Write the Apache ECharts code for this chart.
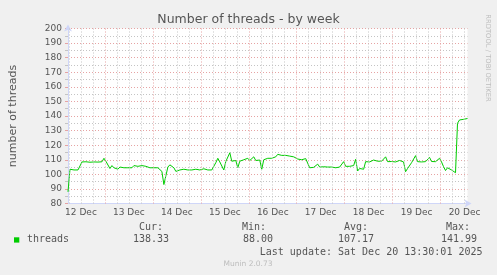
<!DOCTYPE html>
<html><head><meta charset="utf-8">
<script src="https://cdn.jsdelivr.net/npm/echarts@6/dist/echarts.min.js"></script>
<style>html,body{margin:0;padding:0;background:#F0F0F0}#c{width:497px;height:275px}</style>
</head><body><div id="c"></div>
<script>
// ---- data ----
const startTime = Date.UTC(2025, 11, 12, 5, 30);   // first sample
const stepHours = 1;
const threads = [
  88, 103.5, 104, 103, 102.5, 103, 102.5,
  108.5, 108.2, 108.6, 108.9, 108.3, 109.2, 108.5, 109.6, 108.4, 109.1, 108.6, 111, 108.9, 108.6,
  104, 106, 104.5, 105.5, 103.5, 105, 104, 104.5, 105.5, 104.5, 105, 104.5, 106, 105, 105.5, 104.5, 106, 105, 105.5, 104.5, 104.5, 104.8, 104.5, 105, 104.5, 104.8,
  102, 93, 99, 105, 106.5, 106, 104.5,
  102, 102.5, 103, 102, 103.5, 102.5, 103, 102, 103, 102.5, 103.5, 102.5, 103, 102.5, 103.8, 102.5, 103, 102.5, 103, 102.5,
  108, 111, 108.5, 108, 103, 108.8, 108.5, 114.8, 109, 108.5, 109.5, 104.5,
  109, 109.5, 110, 109.5, 111, 109.5, 110, 112, 109.5, 110, 109.8,
  103.5,
  110, 110.5, 111, 110.5, 111, 111.5, 112,
  113.7, 112.5, 113, 112.5, 113, 112, 112.5, 113, 112, 111.5,
  110.5, 111, 110, 110.5, 110.8, 110.5,
  104.5, 105, 104.8, 105.2, 107, 105, 104.8, 105.2, 104.8, 105, 104.8, 105,
  105, 104.5, 104.8, 105, 104.5,
  108.7, 105.5, 106, 105.5, 105.8, 106, 110.3, 102.3, 104, 102.8, 103.5,
  108.7, 109, 108.5, 109, 109.8, 108.8, 109, 108.7, 109, 108.8,
  112,
  108.7, 108.5, 108.8, 108.7, 108.5, 108.8, 109.5, 108.7, 108.5,
  101.8, 104, 105, 108, 109.2, 112.8,
  108.7, 109, 108.5, 108.8, 108.7, 109, 111.6, 108.8, 110, 108.7, 108.6, 111,
  108.5, 105.3, 102.6, 104.5, 103.5, 103, 102.5, 101.1,
  135, 137.3, 136.5, 137.7, 136.8, 138.3
];
const spanHours = 200;
const xTickDays = [12, 13, 14, 15, 16, 17, 18, 19, 20];
const xTickLabels = ['12 Dec', '13 Dec', '14 Dec', '15 Dec', '16 Dec', '17 Dec', '18 Dec', '19 Dec', '20 Dec'];
const yMin = 80, yMax = 200, yStep = 10;
const legendHeaders = ['Cur:', 'Min:', 'Avg:', 'Max:'];
const legendValues = ['138.33', '88.00', '107.17', '141.99'];
const seriesName = 'threads';
const titleText = 'Number of threads - by week';
const yName = 'number of threads';
const lastUpdate = 'Last update: Sat Dec 20 13:30:01 2025';
const footer = 'Munin 2.0.73';
const sideText = 'RRDTOOL / TOBI OETIKER';

// ---- build ----
const H = 3600e3;
const endTime = startTime + spanHours * H;
const lineData = threads.map((v, i) => [startTime + i * stepHours * H, v]);
const labelTimes = xTickDays.map(d => Date.UTC(2025, 11, d, 12));
const gridLines = [];
for (let t = Date.UTC(2025, 11, 12, 6); t <= endTime; t += 6 * H) {
  const midnight = new Date(t).getUTCHours() === 0;
  gridLines.push({ xAxis: t, lineStyle: { color: midnight ? '#E6A3A3' : '#C4C4C4' } });
}
const TXT = '#555';
const SANS = 'DejaVu Sans';
const MONO = 'DejaVu Sans Mono';
function txt(x, y, s, opt) {
  opt = opt || {};
  return {
    type: 'text', x: x, y: y, rotation: opt.rot || 0, silent: true,
    style: {
      text: s, fill: opt.color || TXT, fontSize: opt.size || 10, fontFamily: opt.font || MONO,
      align: opt.align || 'left', textAlign: opt.align || 'left',
      verticalAlign: 'middle', textVerticalAlign: 'middle'
    }
  };
}
const headerRight = [163, 266, 368, 470];
const valueRight = [169, 273, 374, 477];
const graphics = [
  txt(248.5, 19.5, titleText, { font: SANS, size: 12.5, align: 'center' }),
  txt(488, 58, sideText, { font: SANS, size: 6.8, align: 'center', color: '#BDBDBD', rot: -Math.PI / 2 }),
  { type: 'rect', shape: { x: 14, y: 237.3, width: 5.3, height: 5.3 }, style: { fill: '#00CC00' }, silent: true },
  txt(27, 239.5, seriesName),
  txt(482.5, 252, lastUpdate, { align: 'right' }),
  txt(248, 264, footer, { font: SANS, size: 7.5, align: 'center', color: '#BDBDBD' })
];
legendHeaders.forEach((h, i) => graphics.push(txt(headerRight[i], 227.5, h, { align: 'right' })));
legendValues.forEach((v, i) => graphics.push(txt(valueRight[i], 239.5, v, { align: 'right' })));

const chart = echarts.init(document.getElementById('c'), null, { renderer: 'canvas' });
chart.setOption({
  backgroundColor: '#F0F0F0',
  animation: false,
  grid: { left: 66.5, top: 28.5, width: 401, height: 175, show: true, backgroundColor: '#FFFFFF', borderWidth: 0 },
  xAxis: {
    type: 'value', min: startTime, max: endTime,
    axisLine: { show: true, lineStyle: { color: '#CFD6F8', width: 1 }, symbol: ['none', 'arrow'], symbolSize: [6, 7], symbolOffset: [0, 4] },
    axisTick: { show: false },
    splitLine: { show: false },
    axisLabel: {
      customValues: labelTimes,
      color: TXT, fontFamily: SANS, fontSize: 9, margin: 5,
      formatter: function (v) { const k = labelTimes.indexOf(v); return k >= 0 ? xTickLabels[k] : ''; }
    }
  },
  yAxis: {
    type: 'value', min: yMin, max: yMax, interval: yStep,
    name: yName, nameLocation: 'middle', nameGap: 49,
    nameTextStyle: { color: TXT, fontFamily: SANS, fontSize: 11 },
    axisLine: { show: true, lineStyle: { color: '#CFD6F8', width: 1 }, symbol: ['none', 'arrow'], symbolSize: [6, 7], symbolOffset: [0, 4] },
    axisTick: { show: true, length: 3, lineStyle: { color: '#E6A3A3' } },
    minorTick: { show: true, splitNumber: 2, length: 3, lineStyle: { color: '#C4C4C4' } },
    axisLabel: { color: TXT, fontFamily: SANS, fontSize: 9, margin: 6 },
    splitLine: { show: true, lineStyle: { color: '#E6A3A3', type: [1, 2], width: 1 } },
    minorSplitLine: { show: true, lineStyle: { color: '#C4C4C4', type: [1, 2], width: 1 } }
  },
  series: [
    {
      type: 'line', data: [], z: 1, silent: true,
      markLine: {
        silent: true, symbol: 'none', animation: false, label: { show: false },
        lineStyle: { type: [1, 2], width: 1 },
        data: gridLines
      }
    },
    {
      name: seriesName, type: 'line', data: lineData, z: 3, showSymbol: false, silent: true,
      lineStyle: { color: '#00CC00', width: 1 }, itemStyle: { color: '#00CC00' }
    }
  ],
  graphic: graphics
});
</script>
</body></html>
